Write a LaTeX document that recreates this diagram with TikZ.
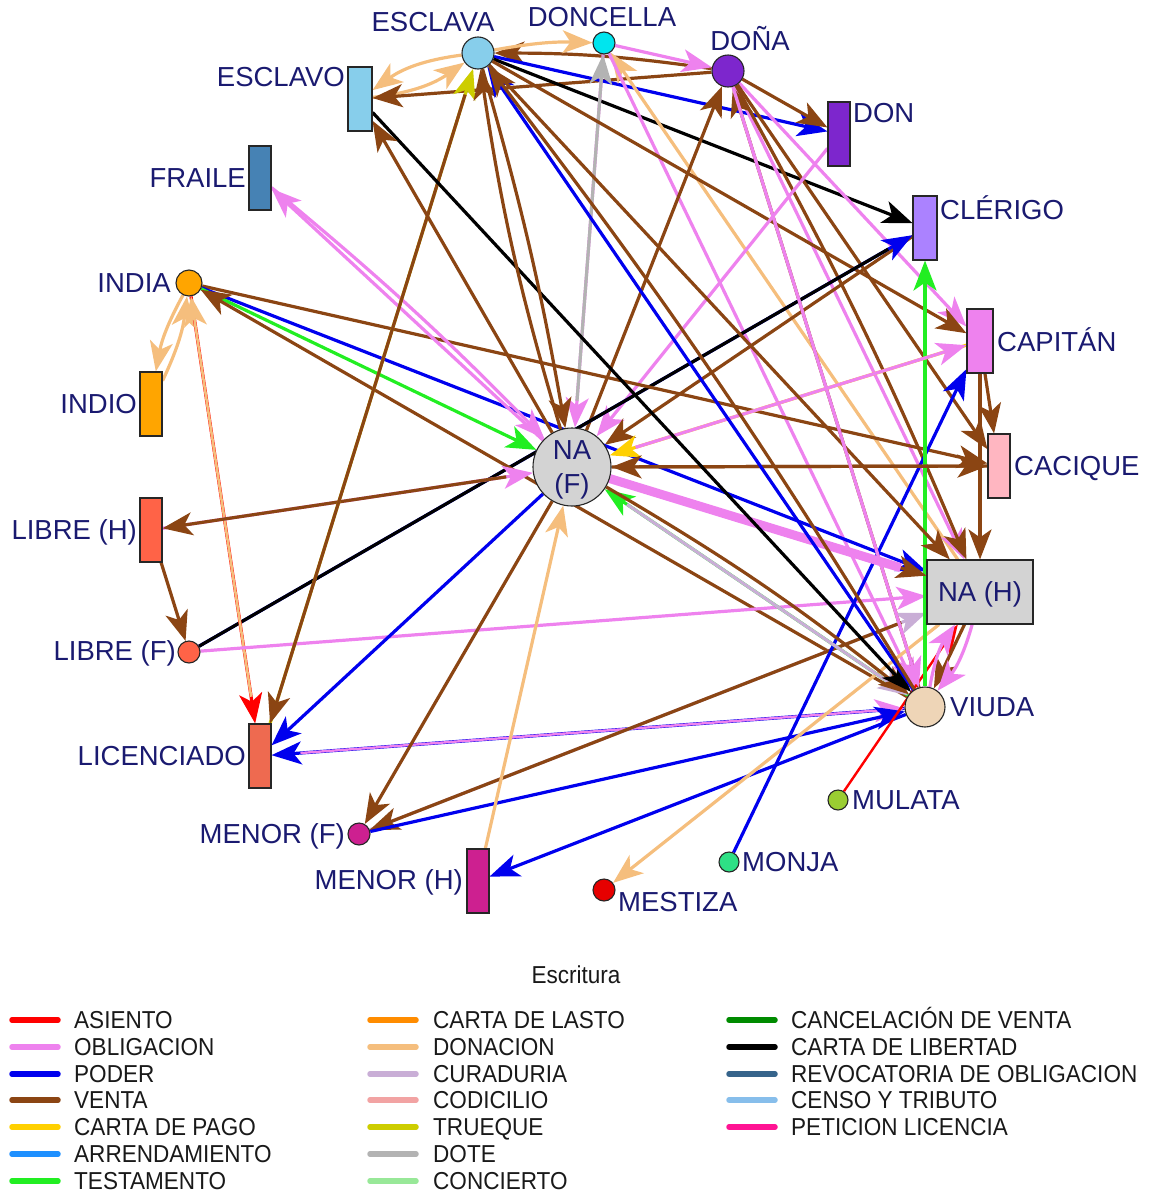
\documentclass[tikz,border=0pt]{standalone}
\usepackage{fontspec}
\setmainfont{Liberation Sans}
\newfontfamily\legfont[FakeStretch=0.92]{Liberation Sans}
\usetikzlibrary{arrows.meta}
\pgfdeclarelayer{bg}
\pgfsetlayers{bg,main}
\definecolor{cAsi}{HTML}{FF0000}
\definecolor{cObl}{HTML}{EE82EE}
\definecolor{cPod}{HTML}{0000EE}
\definecolor{cVen}{HTML}{8B4513}
\definecolor{cPag}{HTML}{FFD000}
\definecolor{cArr}{HTML}{1E90FF}
\definecolor{cTes}{HTML}{22EE22}
\definecolor{cLas}{HTML}{FF8C00}
\definecolor{cDon}{HTML}{F5BE7D}
\definecolor{cCur}{HTML}{C9AED6}
\definecolor{cCod}{HTML}{F2A3A3}
\definecolor{cTru}{HTML}{CDCD00}
\definecolor{cDot}{HTML}{B3B3B3}
\definecolor{cCon}{HTML}{98E898}
\definecolor{cCan}{HTML}{008B00}
\definecolor{cLib}{HTML}{000000}
\definecolor{cRev}{HTML}{36648B}
\definecolor{cCen}{HTML}{87BEEB}
\definecolor{cPet}{HTML}{FF1493}
\definecolor{fEsc}{HTML}{87CEEB}
\definecolor{fDcl}{HTML}{00E5EE}
\definecolor{fDna}{HTML}{7D26CD}
\definecolor{fCle}{HTML}{AB82FF}
\definecolor{fCap}{HTML}{EE82EE}
\definecolor{fCac}{HTML}{FFB6C1}
\definecolor{fNA}{HTML}{D3D3D3}
\definecolor{fViu}{HTML}{EED5B7}
\definecolor{fMul}{HTML}{9ACD32}
\definecolor{fMon}{HTML}{2EE085}
\definecolor{fMes}{HTML}{E60000}
\definecolor{fMen}{HTML}{CD2090}
\definecolor{fLic}{HTML}{EE6A50}
\definecolor{fLib}{HTML}{FF6347}
\definecolor{fInd}{HTML}{FFA500}
\definecolor{fFra}{HTML}{4682B4}
\definecolor{cLab}{HTML}{1A1A70}
\newcommand\legitem[6]{\draw[line width=5.5pt,line cap=round,draw=#4] (#2,#3) -- (#2+46,#3); \node[lt,anchor=west] (#1) at (#5,#3) {#6};}
\begin{document}
\begin{tikzpicture}[x=1pt,y=-1pt,
  nd/.style={draw=black!85,line width=1.1pt,inner sep=0pt},
  cn/.style={nd,circle,minimum size=#1},
  rb/.style={nd,rectangle,minimum width=22pt,minimum height=64pt},
  lb/.style={inner sep=0pt,text=cLab,font=\fontsize{27.5}{30}\selectfont,text height=19.7pt,text depth=0pt},
  lt/.style={inner sep=0pt,text=black!90,font=\legfont\fontsize{24.5}{27}\selectfont,text height=17.5pt,text depth=0pt},
  ed/.style={line width=3.2pt,-{Stealth[length=30pt,width=23pt,inset=8pt]}},
  ln/.style={line width=3.2pt},
  sk/.style={shorten <=27pt},
]
\useasboundingbox (0,0) rectangle (1151,1194);
% nodes
\node[cn=32pt,fill=fEsc] (esclava) at (478,53) {};
\node[cn=22pt,fill=fDcl] (doncella) at (604,43) {};
\node[cn=32pt,fill=fDna] (dona) at (728,71) {};
\node[rb,fill=fDna] (don) at (839,134) {};
\node[rb,minimum width=24pt,fill=fCle] (clerigo) at (925,228) {};
\node[rb,minimum width=26pt,fill=fCap] (capitan) at (980,341) {};
\node[rb,fill=fCac] (cacique) at (999,466) {};
\node[rb,minimum width=106pt,fill=fNA] (nah) at (980,592) {};
\node[cn=40pt,fill=fViu] (viuda) at (925,707) {};
\node[cn=20pt,fill=fMul] (mulata) at (838,800) {};
\node[cn=20pt,fill=fMon] (monja) at (729,862) {};
\node[cn=22pt,fill=fMes] (mestiza) at (604,890) {};
\node[rb,fill=fMen] (menorh) at (478,881) {};
\node[cn=22pt,fill=fMen] (menorf) at (359,834) {};
\node[rb,fill=fLic] (licenciado) at (260,756) {};
\node[cn=22pt,fill=fLib] (libref) at (189,652) {};
\node[rb,fill=fLib] (libreh) at (151,530) {};
\node[rb,fill=fInd] (indio) at (151,404) {};
\node[cn=26pt,fill=fInd] (india) at (189,283) {};
\node[rb,fill=fFra] (fraile) at (260,178) {};
\node[rb,minimum width=24pt,fill=fEsc] (esclavo) at (360,99) {};
\node[cn=78pt,fill=fNA] (naf) at (572,467) {};
% labels
\node[lb] (t-naf1) at (572,450) {NA};
\node[lb] (t-naf2) at (572,484) {(F)};
\node[lb] (t-nah) at (980,592) {NA (H)};
\node[lb] (l-esclava) at (433,22) {ESCLAVA};
\node[lb] (l-doncella) at (602,17) {DONCELLA};
\node[lb] (l-dona) at (750,41) {DOÑA};
\node[lb,anchor=west] (l-don) at (853,113) {DON};
\node[lb,anchor=west] (l-clerigo) at (940,210) {CLÉRIGO};
\node[lb,anchor=west] (l-capitan) at (997,342) {CAPITÁN};
\node[lb,anchor=west] (l-cacique) at (1014,466) {CACIQUE};
\node[lb,anchor=west] (l-viuda) at (950,707) {VIUDA};
\node[lb,anchor=west] (l-mulata) at (852,800) {MULATA};
\node[lb,anchor=west] (l-monja) at (742,862) {MONJA};
\node[lb,anchor=west] (l-mestiza) at (618,902) {MESTIZA};
\node[lb,anchor=east] (l-menorh) at (463,880) {MENOR (H)};
\node[lb,anchor=east] (l-menorf) at (345,834) {MENOR (F)};
\node[lb,anchor=east] (l-lic) at (246,756) {LICENCIADO};
\node[lb,anchor=east] (l-libref) at (176,651) {LIBRE (F)};
\node[lb,anchor=east] (l-libreh) at (137,530) {LIBRE (H)};
\node[lb,anchor=east] (l-indio) at (137,404) {INDIO};
\node[lb,anchor=east] (l-india) at (171,283) {INDIA};
\node[lb,anchor=east] (l-fraile) at (246,178) {FRAILE};
\node[lb,anchor=east] (l-esclavo) at (345,77) {ESCLAVO};
% edges
\begin{pgfonlayer}{bg}
\draw[ed,cDon] (esclava) to[bend right=14] (esclavo);
\draw[ed,cDon] (esclavo) to[bend right=14] (esclava);
\draw[ed,cVen] (dona) -- (esclavo);
\draw[ed,cVen] (dona) to[bend right=4] (esclava);
\draw[ed,cDon] (esclava) to[bend left=6] (doncella);
\draw[ed,cObl] (doncella) -- (dona);
\draw[ed,cPod] (esclava) -- (don);
\draw[ed,cVen] (dona) -- (don);
\draw[ed,cLib] (esclava) -- (clerigo);
\draw[ed,cObl] (doncella) -- (naf);
\draw[ed,cDot,sk] (naf) -- (doncella);
\draw[ed,cDon] (nah) -- (doncella);
\draw[ed,cObl] (doncella) -- (viuda);
\draw[ed,cObl] (dona) -- (nah);
\draw[ed,cVen] (naf) -- (dona);
\draw[ed,cVen] (dona) to[bend left=3] (nah);
\draw[ed,cVen] (viuda) -- (dona);
\draw[ed,cObl] (dona) -- (capitan);
\draw[ed,cVen] (esclava) -- (capitan);
\draw[ed,cVen] (dona) -- (cacique);
\draw[ed,cObl] (don) -- (naf);
\draw[ed,cVen] (clerigo) -- (naf);
\draw[ed,cPod] (libref) -- (clerigo);
\draw[ln,cLib,shorten >=28pt] (libref) -- (clerigo);
\draw[ed,cVen] (india) -- (cacique);
\draw[ed,cPod] (india) -- (nah);
\draw[ed,cTes] (india) -- (naf);
\draw[ed,cVen] (viuda) -- (india);
\draw[ed,cDon] (indio) to[bend right=9] (india);
\draw[ed,cDon] (india) to[bend right=9] (indio);
\draw[ed,cAsi] (india) -- (licenciado);
\draw[ed,cDon,line width=2.6pt,sk] (licenciado) -- (india);
\draw[ed,cObl] (naf) -- (fraile);
\draw[ed,cObl] (fraile) to[bend left=3] (naf);
\draw[ed,cObl] (libreh) -- (naf);
\draw[ed,cVen,sk] (naf) -- (libreh);
\draw[ed,cVen] (libreh) -- (libref);
\draw[ed,cObl] (libref) -- (nah);
\draw[ed,cPod] (viuda) -- (licenciado);
\draw[ed,cObl,line width=2.4pt,shorten <=29pt] (licenciado) -- (viuda);
\draw[ed,cPod] (naf) -- (licenciado);
\draw[ed,cTru] (licenciado) -- (esclava);
\draw[ed,cVen,sk] (esclava) -- (licenciado);
\draw[ed,cVen] (naf) -- (menorf);
\draw[ed,cCur] (menorf) -- (nah);
\draw[ed,cVen,sk] (nah) -- (menorf);
\draw[ed,cPod] (menorf) -- (viuda);
\draw[ed,cPod] (viuda) -- (menorh);
\draw[ed,cDon] (menorh) -- (naf);
\draw[ed,cDon] (nah) -- (mestiza);
\draw[ed,cPod] (monja) -- (capitan);
\draw[ed,cAsi,line width=2.4pt] (mulata) -- (nah);
\draw[ed,cTes] (viuda) -- (clerigo);
\draw[ed,cPag] (capitan) -- (naf);
\draw[ed,cObl,sk] (naf) -- (capitan);
\draw[ed,cVen] (naf) -- (cacique);
\draw[ed,cVen] (cacique) -- (naf);
\draw[ed,cVen] (naf) -- (nah);
\draw[ln,cObl,line width=9pt,shorten >=27pt] (naf) -- (nah);
\draw[ed,cTes] (viuda) -- (naf);
\draw[ed,cCur,sk] (naf) -- (viuda);
\draw[ed,cVen] (naf) to[bend left=4] (viuda);
\draw[ed,cLib] (esclavo) -- (viuda);
\draw[ed,cVen] (naf) -- (esclavo);
\draw[ed,cVen] (esclava) to[bend left=3] (naf);
\draw[ed,cVen] (naf) to[bend left=4] (esclava);
\draw[ed,cPod] (viuda) -- (esclava);
\draw[ed,cVen] (viuda) to[bend right=3] (esclava);
\draw[ed,cVen] (esclava) -- (nah);
\draw[ed,cVen] (capitan) -- (cacique);
\draw[ed,cVen] (capitan) -- (nah);
\draw[ed,cVen] (nah) -- (viuda);
\draw[ed,cObl] (viuda) to[bend left=12] (nah);
\draw[ed,cObl] (nah) to[bend left=12] (viuda);
\draw[ed,cObl] (dona) -- (viuda);
\end{pgfonlayer}
% legend
\node[lt,text height=18pt] (legtitle) at (576,974) {Escritura};
\legitem{lg1}{12}{1020}{cAsi}{74}{ASIENTO}
\legitem{lg2}{12}{1047}{cObl}{74}{OBLIGACION}
\legitem{lg3}{12}{1074}{cPod}{74}{PODER}
\legitem{lg4}{12}{1100}{cVen}{74}{VENTA}
\legitem{lg5}{12}{1127}{cPag}{74}{CARTA DE PAGO}
\legitem{lg6}{12}{1154}{cArr}{74}{ARRENDAMIENTO}
\legitem{lg7}{12}{1181}{cTes}{74}{TESTAMENTO}
\legitem{lg8}{370}{1020}{cLas}{433}{CARTA DE LASTO}
\legitem{lg9}{370}{1047}{cDon}{433}{DONACION}
\legitem{lg10}{370}{1074}{cCur}{433}{CURADURIA}
\legitem{lg11}{370}{1100}{cCod}{433}{CODICILIO}
\legitem{lg12}{370}{1127}{cTru}{433}{TRUEQUE}
\legitem{lg13}{370}{1154}{cDot}{433}{DOTE}
\legitem{lg14}{370}{1181}{cCon}{433}{CONCIERTO}
\legitem{lg15}{729}{1020}{cCan}{791}{CANCELACIÓN DE VENTA}
\legitem{lg16}{729}{1047}{cLib}{791}{CARTA DE LIBERTAD}
\legitem{lg17}{729}{1074}{cRev}{791}{REVOCATORIA DE OBLIGACION}
\legitem{lg18}{729}{1100}{cCen}{791}{CENSO Y TRIBUTO}
\legitem{lg19}{729}{1127}{cPet}{791}{PETICION LICENCIA}
\end{tikzpicture}
\end{document}
